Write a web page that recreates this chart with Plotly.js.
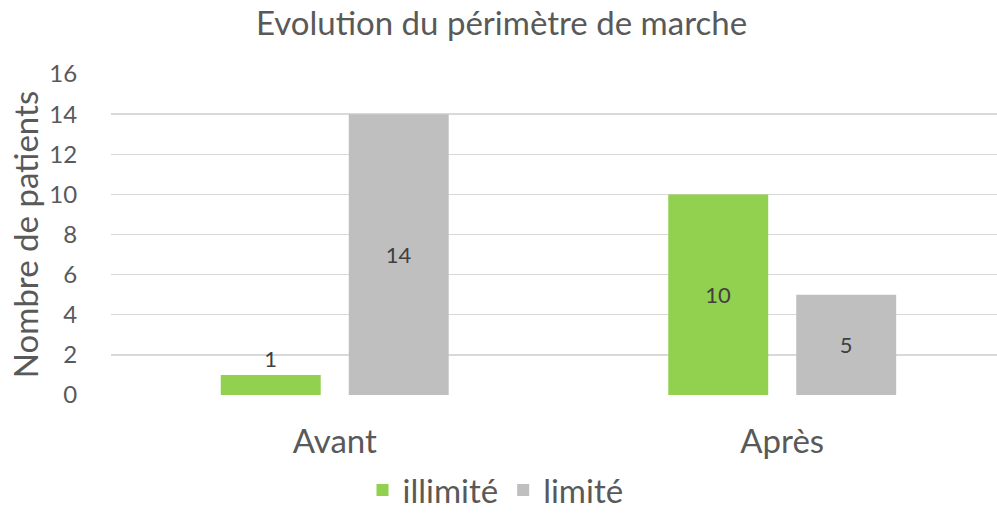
<!DOCTYPE html>
<html>
<head>
<meta charset="utf-8">
<script src="https://cdn.plot.ly/plotly-3.0.1.min.js"></script>
<style>html,body{margin:0;padding:0;background:#fff;}#chart{width:997px;height:518px;}</style>
</head>
<body>
<div id="chart"></div>
<script>
const categories = ["Avant", "Après"];
const seriesNames = ["illimité", "limité"];
const illimite = [1, 10];
const limite = [14, 5];
const yTicks = [0, 2, 4, 6, 8, 10, 12, 14, 16];

const FONT = "Lato, 'Open Sans', sans-serif";
const TXT = "#595959";

const traces = [
  {type: "bar", name: seriesNames[0], x: categories, y: illimite,
   marker: {color: "#92D050"}, text: illimite.map(String),
   textposition: ["outside", "inside"], insidetextanchor: "middle", constraintext: "none", textangle: 0,
   textfont: {family: FONT, size: 22, color: "#404040"}, cliponaxis: false, hoverinfo: "none"},
  {type: "bar", name: seriesNames[1], x: categories, y: limite,
   marker: {color: "#BFBFBF"}, text: limite.map(String),
   textposition: "inside", insidetextanchor: "middle", constraintext: "none", textangle: 0,
   textfont: {family: FONT, size: 22, color: "#404040"}, hoverinfo: "none"}
];

const layout = {
  width: 997, height: 518,
  margin: {l: 111, r: 0, t: 74, b: 123},
  paper_bgcolor: "#fff", plot_bgcolor: "#fff",
  font: {family: FONT, color: TXT},
  title: {text: "Evolution du périmètre de marche", font: {family: FONT, size: 33, color: TXT},
          x: 0.503, xref: "container", xanchor: "center", y: 0.955, yref: "container", yanchor: "middle"},
  barmode: "group", bargap: 0.428, bargroupgap: 0.219,
  xaxis: {type: "category", range: [-0.5, 1.48], showgrid: false, zeroline: false,
          showline: false, ticks: "outside", ticklen: 17, tickcolor: "rgba(0,0,0,0)",
          tickfont: {family: FONT, size: 33, color: TXT}},
  yaxis: {range: [0, 16], tickvals: yTicks, ticktext: yTicks.map(String),
          showgrid: true, gridcolor: "#D9D9D9", gridwidth: 1.3, zeroline: false, showline: false,
          ticks: "outside", ticklen: 28, tickcolor: "rgba(0,0,0,0)",
          tickfont: {family: FONT, size: 24, color: TXT},
          title: {text: "Nombre de patients", font: {family: FONT, size: 33, color: TXT}, standoff: 0}},
  legend: {orientation: "h", xref: "container", yref: "container", x: 0.497, xanchor: "center",
           y: 0, yanchor: "bottom", font: {family: FONT, size: 33, color: TXT},
           traceorder: "normal"},
  showlegend: true
};

Plotly.newPlot("chart", traces, layout, {displayModeBar: false, staticPlot: true});
</script>
</body>
</html>
